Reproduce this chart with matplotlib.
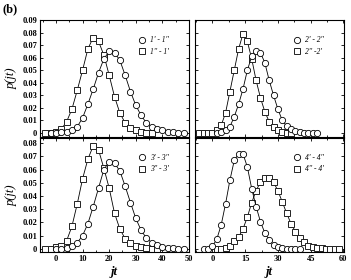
import matplotlib
matplotlib.use('Agg')
import matplotlib.pyplot as plt
from matplotlib.lines import Line2D
from matplotlib.ticker import MultipleLocator, FuncFormatter

plt.rcParams['font.family'] = ['Liberation Serif', 'DejaVu Serif']

# panel 1
x1_sq = [-4, -2, 0, 2, 4, 6, 8, 10, 12, 14, 16, 18, 20, 22, 24, 26, 28, 30, 32, 34, 36]
y1_sq = [0, 0, 0.001, 0.003, 0.009, 0.019, 0.034, 0.050, 0.067, 0.076, 0.073, 0.062, 0.046,
         0.029, 0.016, 0.008, 0.004, 0.002, 0.001, 0, 0]
x1_ci = [-2, 0, 2, 4, 6, 8, 10, 12, 14, 16, 18, 20, 22, 24, 26, 28, 30, 32, 34, 36, 38, 40,
         42, 44, 46, 48]
y1_ci = [0, 0, 0.0005, 0.001, 0.002, 0.005, 0.012, 0.023, 0.035, 0.048, 0.059, 0.065, 0.064,
         0.058, 0.046, 0.033, 0.022, 0.014, 0.008, 0.005, 0.003, 0.002, 0.001, 0.0005, 0, 0]

# panel 2
x2_sq = [-6, -4, -2, 0, 2, 4, 6, 8, 10, 12, 14, 16, 18, 20, 22, 24, 26, 28, 30, 32, 34, 36]
y2_sq = [0, 0, 0, 0, 0.002, 0.006, 0.016, 0.033, 0.050, 0.067, 0.079, 0.073, 0.059, 0.042,
         0.028, 0.017, 0.009, 0.0045, 0.002, 0.0007, 0, 0]
x2_ci = [2, 4, 6, 8, 10, 12, 14, 16, 18, 20, 22, 24, 26, 28, 30, 32, 34, 36, 38, 40, 42, 44,
         46, 48]
y2_ci = [0, 0.0005, 0.002, 0.005, 0.013, 0.023, 0.035, 0.050, 0.061, 0.065, 0.064, 0.056,
         0.042, 0.030, 0.019, 0.010, 0.0055, 0.003, 0.0018, 0.0008, 0.0003, 0, 0, 0]

# panel 3
x3_sq = [-4, -2, 0, 2, 4, 6, 8, 10, 12, 14, 16, 18, 20, 22, 24, 26, 28, 30, 32, 34, 36, 38]
y3_sq = [0, 0, 0.001, 0.002, 0.006, 0.017, 0.034, 0.053, 0.068, 0.078, 0.075, 0.061, 0.046,
         0.027, 0.015, 0.0076, 0.004, 0.002, 0.001, 0.0005, 0, 0]
x3_ci = [0, 2, 4, 6, 8, 10, 12, 14, 16, 18, 20, 22, 24, 26, 28, 30, 32, 34, 36, 38, 40, 42,
         44, 46, 48]
y3_ci = [0, 0, 0.0005, 0.0018, 0.0045, 0.010, 0.019, 0.032, 0.046, 0.060, 0.066, 0.065,
         0.059, 0.0475, 0.035, 0.023, 0.014, 0.008, 0.0046, 0.0025, 0.0013, 0.0008, 0.0003,
         0, 0]

# panel 4
x4_ci = [-4, -2, 0, 2, 4, 6, 8, 10, 12, 14, 16, 18, 20, 22, 24, 26, 28, 30, 32, 34, 36, 38, 40]
y4_ci = [0, 0, 0.0018, 0.0073, 0.018, 0.034, 0.052, 0.067, 0.072, 0.072, 0.062, 0.0455,
         0.032, 0.0205, 0.012, 0.0068, 0.003, 0.0013, 0.0003, 0, 0, 0, 0]
x4_sq = [2, 4, 6, 8, 10, 12, 14, 16, 18, 20, 22, 24, 26, 28, 30, 32, 34, 36, 38, 40, 42, 44,
         46, 48, 50, 52, 54, 56, 58]
y4_sq = [0, 0, 0.0005, 0.0023, 0.0055, 0.0088, 0.015, 0.024, 0.035, 0.044, 0.0505, 0.054,
         0.054, 0.0505, 0.044, 0.0355, 0.027, 0.019, 0.013, 0.008, 0.0048, 0.0023, 0.0012,
         0.0005, 0.0002, 0, 0, 0, 0]

labels = [("1' - 1''", "1'' - 1'"), ("2' - 2''", "2'' -2'"),
          ("3' - 3''", "3'' - 3'"), ("4' - 4''", "4'' - 4'")]

fig = plt.figure(figsize=(3.51, 2.80), dpi=100)
W, H = 351, 280


def box(x0, x1, ytop, ybot):
    return [x0 / W, 1 - ybot / H, (x1 - x0) / W, (ybot - ytop) / H]


axs = [fig.add_axes(box(40, 189, 20, 137)), fig.add_axes(box(195, 344, 20, 137)),
       fig.add_axes(box(40, 189, 138, 252)), fig.add_axes(box(195, 344, 138, 252))]

data = [(x1_ci, y1_ci, x1_sq, y1_sq), (x2_ci, y2_ci, x2_sq, y2_sq),
        (x3_ci, y3_ci, x3_sq, y3_sq), (x4_ci, y4_ci, x4_sq, y4_sq)]

ms_c = 4.5
ms_s = 3.9
fmt = FuncFormatter(lambda v, p: '0' if abs(v) < 1e-9 else f'{v:.2f}')

for i, ax in enumerate(axs):
    xc, yc, xs, ys = data[i]
    ax.plot(xs, ys, '-', color='black', lw=0.6, marker='s', ms=ms_s, mfc='white',
            mec='#222222', mew=0.7)
    ax.plot(xc, yc, '-', color='black', lw=0.6, marker='o', ms=ms_c, mfc='white',
            mec='black', mew=0.6)
    if i % 2 == 0:
        ax.set_xlim(-6, 50)
        ax.xaxis.set_major_locator(MultipleLocator(10))
        ax.xaxis.set_minor_locator(MultipleLocator(5))
    else:
        ax.set_xlim(-8, 60.3)
        ax.xaxis.set_major_locator(MultipleLocator(15))
        ax.xaxis.set_minor_locator(MultipleLocator(7.5))
    if i < 2:
        ax.set_ylim(-0.0032, 0.09)
    else:
        ax.set_ylim(-0.0025, 0.084)
    ax.yaxis.set_major_locator(MultipleLocator(0.01))
    ax.yaxis.set_major_formatter(fmt)
    ax.tick_params(which='both', direction='in', top=True, right=True, width=0.6,
                   labelsize=6, pad=2)
    ax.tick_params(which='major', length=2.5)
    ax.tick_params(which='minor', length=1.5)
    for lab in ax.get_xticklabels() + ax.get_yticklabels():
        lab.set_fontweight('bold')
    if i < 2:
        ax.tick_params(labelbottom=False)
    if i % 2 == 1:
        ax.tick_params(labelleft=False)
    for sp in ax.spines.values():
        sp.set_linewidth(0.8)
    handles = [Line2D([], [], ls='none', marker='o', ms=ms_c, mfc='white', mec='black', mew=0.6),
               Line2D([], [], ls='none', marker='s', ms=ms_s, mfc='white', mec='#222222', mew=0.7)]
    ax.legend(handles, labels[i], loc='upper left', bbox_to_anchor=(0.66, 0.86),
              frameon=False, borderpad=0, borderaxespad=0, handlelength=0.9,
              handletextpad=0.6, labelspacing=0.45, prop={'style': 'italic', 'size': 5.5})

axs[0].set_ylabel('p(jt)', style='italic', fontsize=9, labelpad=3)
axs[2].set_ylabel('p(jt)', style='italic', fontsize=9, labelpad=3)
axs[2].set_xlabel('jt', style='italic', fontweight='bold', fontsize=9, labelpad=2)
axs[3].set_xlabel('jt', style='italic', fontweight='bold', fontsize=9, labelpad=2)

fig.text(0.008, 0.99, '(b)', fontsize=9, fontweight='bold', va='top', ha='left')

fig.savefig('out.png', dpi=100)
